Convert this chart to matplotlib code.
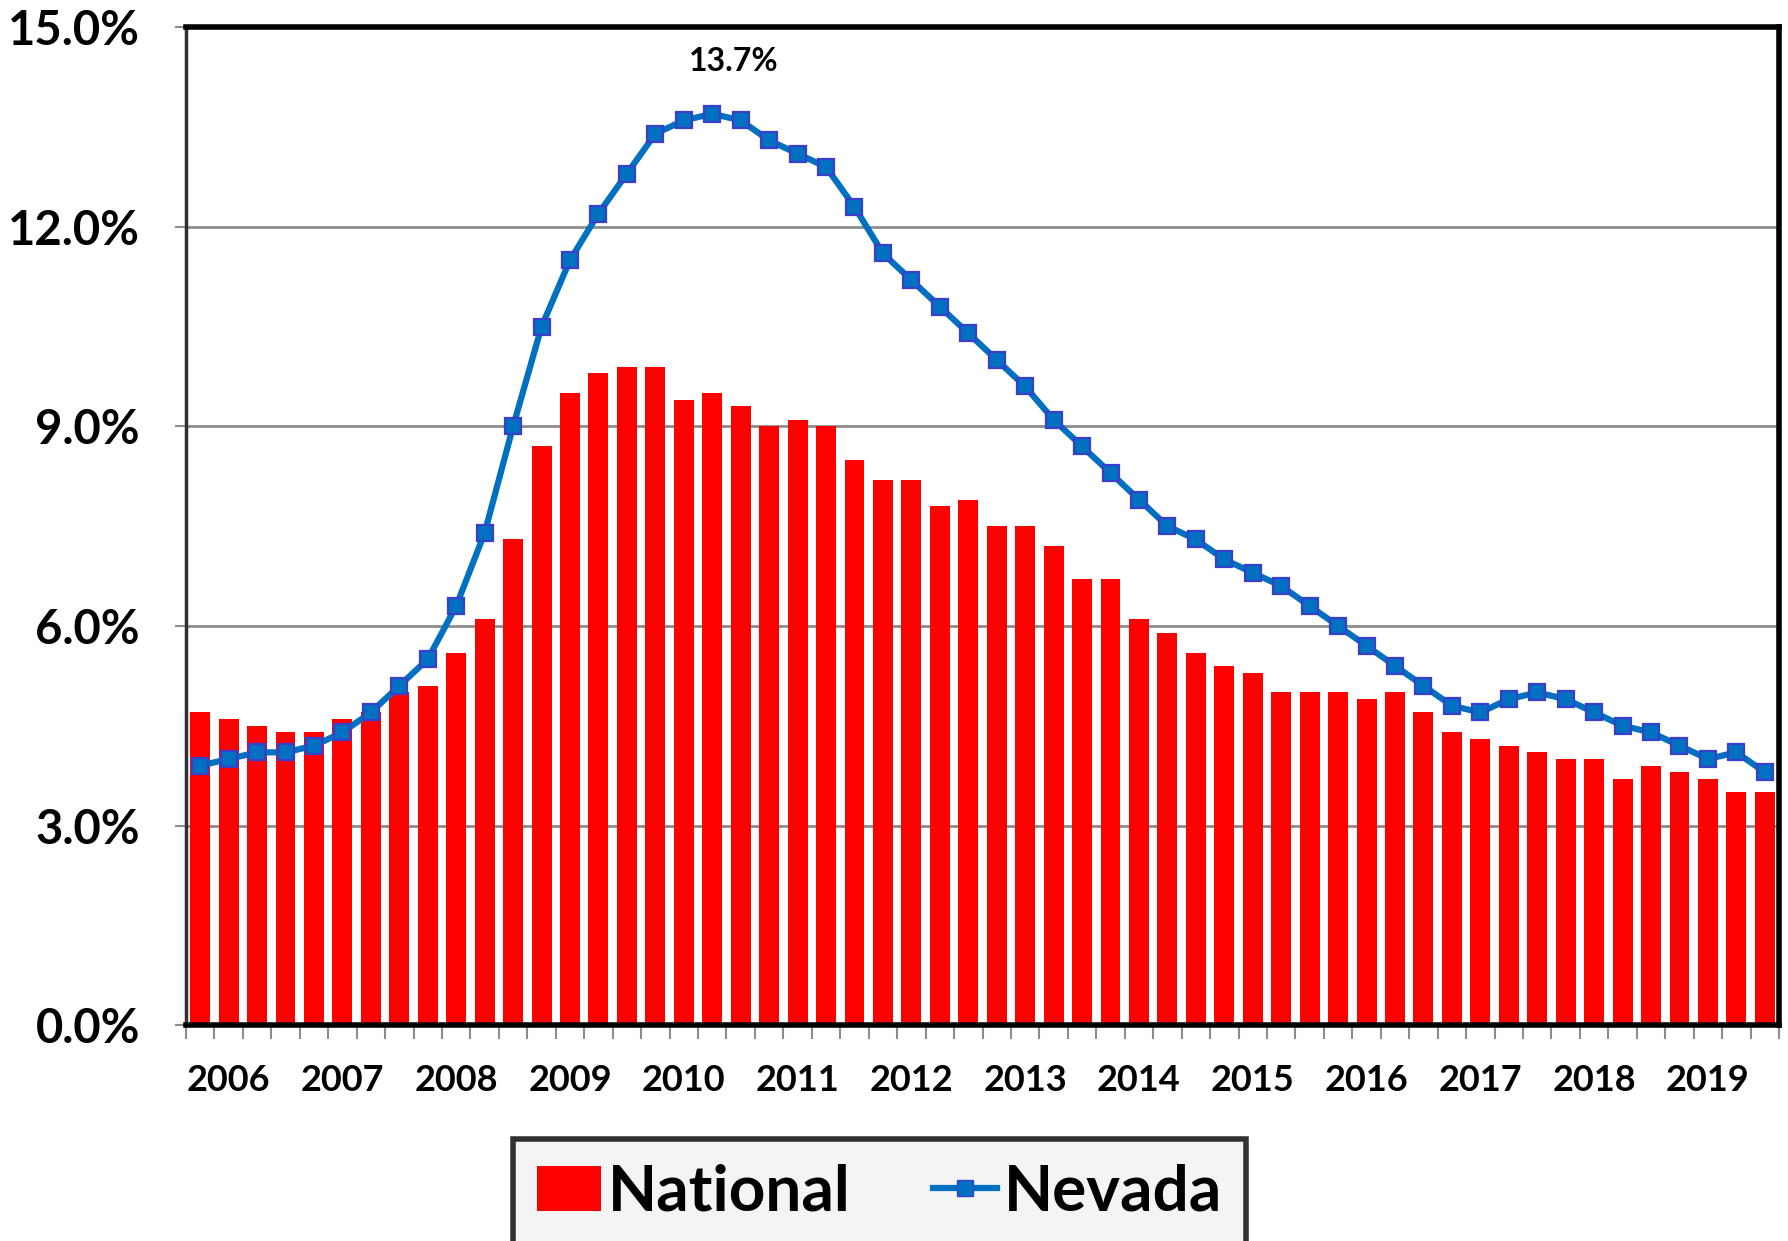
import numpy as np
import matplotlib
matplotlib.use("Agg")
import matplotlib.pyplot as plt
from matplotlib.lines import Line2D
from matplotlib.patches import Patch

plt.rcParams["font.family"] = ["Lato", "DejaVu Sans"]
plt.rcParams["font.weight"] = "bold"

years = [str(y) for y in range(2006, 2020)]

# quarterly unemployment rate (%), 2006 Q1 .. 2019 Q4
national = [
    4.7, 4.6, 4.5, 4.4,
    4.4, 4.6, 4.7, 5.0,
    5.1, 5.6, 6.1, 7.3,
    8.7, 9.5, 9.8, 9.9,
    9.9, 9.4, 9.5, 9.3,
    9.0, 9.1, 9.0, 8.5,
    8.2, 8.2, 7.8, 7.9,
    7.5, 7.5, 7.2, 6.7,
    6.7, 6.1, 5.9, 5.6,
    5.4, 5.3, 5.0, 5.0,
    5.0, 4.9, 5.0, 4.7,
    4.4, 4.3, 4.2, 4.1,
    4.0, 4.0, 3.7, 3.9,
    3.8, 3.7, 3.5, 3.5,
]
nevada = [
    3.9, 4.0, 4.1, 4.1,
    4.2, 4.4, 4.7, 5.1,
    5.5, 6.3, 7.4, 9.0,
    10.5, 11.5, 12.2, 12.8,
    13.4, 13.6, 13.7, 13.6,
    13.3, 13.1, 12.9, 12.3,
    11.6, 11.2, 10.8, 10.4,
    10.0, 9.6, 9.1, 8.7,
    8.3, 7.9, 7.5, 7.3,
    7.0, 6.8, 6.6, 6.3,
    6.0, 5.7, 5.4, 5.1,
    4.8, 4.7, 4.9, 5.0,
    4.9, 4.7, 4.5, 4.4,
    4.2, 4.0, 4.1, 3.8,
]

x = np.arange(len(national))
line_color = "#0070C0"
marker_edge = "#3A3FCB"

fig = plt.figure(figsize=(17.88, 12.41), dpi=100)
ax = fig.add_axes([0.104, 0.174, 0.891, 0.804])

ax.bar(x, national, width=0.7, color="#FF0000", zorder=2)
ax.plot(x, nevada, color=line_color, lw=4.5, marker="s", markersize=11,
        markerfacecolor=line_color, markeredgecolor=marker_edge,
        markeredgewidth=1.6, zorder=3)

# peak label
peak = int(np.argmax(nevada))
ax.annotate(f"{nevada[peak]:.1f}%", xy=(x[peak], nevada[peak]),
            xytext=(21, 52), textcoords="offset pixels",
            ha="center", va="center", fontsize=23, fontweight="bold")

ax.set_xlim(-0.5, len(national) - 0.5)
ax.set_ylim(0, 15)
ax.set_yticks(np.arange(0, 15.1, 3))
ax.set_yticklabels([f"{v:.1f}%" for v in np.arange(0, 15.1, 3)],
                   fontsize=34, fontweight="bold")
ax.yaxis.grid(True, color="#8C8C8C", lw=2, zorder=0)
ax.set_axisbelow(True)

# year labels sit under the second quarter of each year
ax.set_xticks(np.arange(1, len(national), 4))
ax.set_xticklabels(years, fontsize=26, fontweight="bold")
ax.set_xticks(np.arange(-0.5, len(national), 1), minor=True)
ax.tick_params(axis="x", which="major", length=0, pad=28)
ax.tick_params(axis="x", which="minor", length=10, width=1.5, color="#8C8C8C")
ax.tick_params(axis="y", length=8, width=1.5, color="#8C8C8C", pad=25)

for side in ["top", "right", "bottom"]:
    ax.spines[side].set_color("black")
    ax.spines[side].set_linewidth(4)
ax.spines["left"].set_color("#303030")
ax.spines["left"].set_linewidth(2.5)

handles = [
    Patch(facecolor="#FF0000", edgecolor="none"),
    Line2D([0], [0], color=line_color, lw=4.5, marker="s", markersize=12,
           markerfacecolor=line_color, markeredgecolor=marker_edge),
]
leg = fig.legend(handles, ["National", "Nevada"], loc="upper center",
                 bbox_to_anchor=(0.492, 0.082), ncol=2, frameon=True,
                 fancybox=False, prop={"size": 46, "weight": "bold"},
                 handlelength=1.0, handletextpad=0.1, columnspacing=1.3,
                 borderpad=0.38, borderaxespad=0)
leg.get_frame().set_facecolor("#F2F2F2")
leg.get_frame().set_edgecolor("black")
leg.get_frame().set_linewidth(4)

fig.savefig("out.png", dpi=100)
